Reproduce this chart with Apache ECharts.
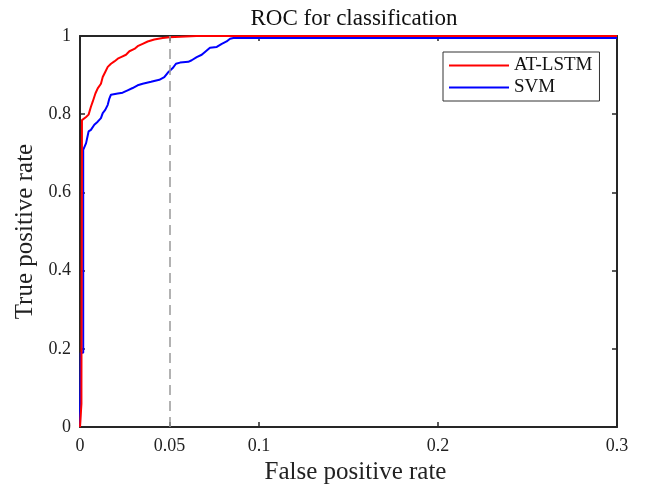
<!DOCTYPE html>
<html>
<head>
<meta charset="utf-8">
<script src="https://cdn.jsdelivr.net/npm/echarts@6/dist/echarts.min.js"></script>
<style>html,body{margin:0;padding:0;background:#fff}#c{width:646px;height:490px}</style>
</head>
<body>
<div id="c"></div>
<script>
const xTicks = [0, 0.05, 0.1, 0.2, 0.3];
const yTicks = [0, 0.2, 0.4, 0.6, 0.8, 1];
const seriesNames = ['AT-LSTM', 'SVM'];
const lstmFpr = [0, 0.0008, 0.0008, 0.0011, 0.0011, 0.0034, 0.0048, 0.0061, 0.0071, 0.0086, 0.0099, 0.0117, 0.0127, 0.0141, 0.0155, 0.0173, 0.0192, 0.0211, 0.0229, 0.0257, 0.0276, 0.0304, 0.0322, 0.035, 0.0378, 0.0415, 0.0462, 0.05, 0.056, 0.065, 0.3];
const lstmTpr = [0, 0.06, 0.10, 0.10, 0.785, 0.793, 0.799, 0.819, 0.832, 0.853, 0.866, 0.878, 0.895, 0.908, 0.921, 0.929, 0.935, 0.942, 0.946, 0.952, 0.961, 0.967, 0.974, 0.980, 0.986, 0.991, 0.995, 0.997, 0.998, 1.0, 1.0];
const svmFpr = [0, 0.0004, 0.0018, 0.0018, 0.0034, 0.0048, 0.0061, 0.008, 0.0099, 0.0117, 0.0127, 0.0141, 0.0155, 0.0164, 0.0173, 0.0211, 0.0238, 0.0266, 0.0294, 0.0322, 0.035, 0.0397, 0.0443, 0.0471, 0.049, 0.0518, 0.0536, 0.0559, 0.0605, 0.0624, 0.0652, 0.068, 0.0708, 0.0726, 0.0764, 0.0792, 0.0819, 0.0838, 0.0857, 0.3];
const svmTpr = [0, 0.19, 0.19, 0.709, 0.726, 0.756, 0.760, 0.773, 0.781, 0.790, 0.803, 0.811, 0.824, 0.840, 0.850, 0.853, 0.855, 0.861, 0.867, 0.874, 0.878, 0.883, 0.888, 0.895, 0.906, 0.918, 0.929, 0.932, 0.934, 0.938, 0.946, 0.952, 0.963, 0.970, 0.972, 0.980, 0.986, 0.993, 0.995, 0.995];
const refLine = 0.05;

const font = 'Liberation Serif';
const pairs = (xs, ys) => xs.map((x, i) => [x, ys[i]]);
const axisCommon = {
  min: 0,
  axisLine: { show: true, onZero: false, lineStyle: { color: '#262626', width: 2 } },
  splitLine: { show: false },
};
const chart = echarts.init(document.getElementById('c'));
chart.setOption({
  animation: false,
  backgroundColor: '#fff',
  title: {
    text: 'ROC for classification', left: 349, textAlign: 'center', top: 2,
    textStyle: { fontFamily: font, fontSize: 23, fontWeight: 'normal', color: '#111' }
  },
  grid: { left: 80, right: 29, top: 36, bottom: 62 },
  legend: {
    orient: 'vertical', left: 443, top: 52,
    data: seriesNames.map(n => ({ name: n, icon: 'rect' })),
    itemWidth: 60, itemHeight: 2, itemGap: 3,
    padding: [4, 7, 4, 6],
    borderColor: '#333', borderWidth: 1, backgroundColor: '#fff',
    textStyle: { fontFamily: font, fontSize: 19, color: '#111' }
  },
  xAxis: [
    Object.assign({}, axisCommon, {
      type: 'value', max: 0.3, position: 'bottom',
      name: 'False positive rate', nameLocation: 'middle', nameGap: 26,
      nameTextStyle: { fontFamily: font, fontSize: 25, color: '#222', padding: [0, 0, 0, 14] },
      axisTick: { inside: true, length: 5, customValues: xTicks, lineStyle: { color: '#262626', width: 1.5 } },
      axisLabel: { customValues: xTicks, margin: 10, fontFamily: font, fontSize: 18, color: '#222',
        formatter: v => String(Math.round(v * 100) / 100) }
    }),
    Object.assign({}, axisCommon, {
      type: 'value', max: 0.3, position: 'top',
      axisTick: { inside: true, length: 5, customValues: xTicks, lineStyle: { color: '#262626', width: 1.5 } },
      axisLabel: { show: false }
    })
  ],
  yAxis: [
    Object.assign({}, axisCommon, {
      type: 'value', max: 1, interval: 0.2, position: 'left',
      name: 'True positive rate', nameLocation: 'middle', nameGap: 42,
      nameTextStyle: { fontFamily: font, fontSize: 25, color: '#222' },
      axisTick: { inside: true, length: 5, customValues: yTicks, lineStyle: { color: '#262626', width: 1.5 } },
      axisLabel: { customValues: yTicks, margin: 9, fontFamily: font, fontSize: 18, color: '#222',
        formatter: v => String(Math.round(v * 10) / 10) }
    }),
    Object.assign({}, axisCommon, {
      type: 'value', max: 1, interval: 0.2, position: 'right',
      axisTick: { inside: true, length: 5, customValues: yTicks, lineStyle: { color: '#262626', width: 1.5 } },
      axisLabel: { show: false }
    })
  ],
  series: [
    {
      name: 'SVM', type: 'line', xAxisIndex: 0, yAxisIndex: 0,
      data: pairs(svmFpr, svmTpr), showSymbol: false, symbol: 'none',
      lineStyle: { color: '#0000ff', width: 2 }, itemStyle: { color: '#0000ff' }, z: 3,
      markLine: {
        silent: true, symbol: 'none', label: { show: false },
        lineStyle: { color: '#999', type: [10, 6], width: 1.5 },
        data: [{ xAxis: refLine }]
      }
    },
    {
      name: 'AT-LSTM', type: 'line', xAxisIndex: 0, yAxisIndex: 0,
      data: pairs(lstmFpr, lstmTpr), showSymbol: false, symbol: 'none',
      lineStyle: { color: '#ff0000', width: 2 }, itemStyle: { color: '#ff0000' }, z: 4
    }
  ]
});
</script>
</body>
</html>
